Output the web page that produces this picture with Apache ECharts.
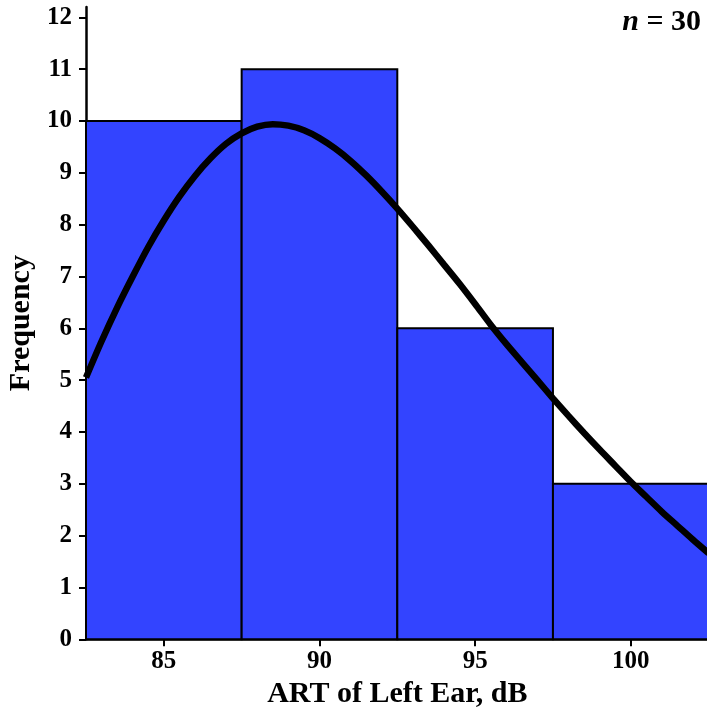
<!DOCTYPE html>
<html>
<head>
<meta charset="utf-8">
<script src="https://cdn.jsdelivr.net/npm/echarts@6/dist/echarts.min.js"></script>
<style>html,body{margin:0;padding:0;background:#fff}#c{width:707px;height:711px}</style>
</head>
<body>
<div id="c"></div>
<script>
// Histogram bins
var binStarts = [82.5, 87.5, 92.5, 97.5];
var binEnds = [87.5, 92.5, 97.5, 102.5];
var counts = [10, 11, 6, 3];
// Fitted curve
var curveX = [82.5, 83, 83.5, 84, 84.5, 85, 85.5, 86, 86.5, 87, 87.5, 88, 88.5, 89, 89.5, 90, 90.5, 91, 91.5, 92, 92.5, 93, 93.5, 94, 94.5, 95, 95.5, 96, 96.5, 97, 97.5, 98, 98.5, 99, 99.5, 100, 100.5, 101, 101.5, 102, 102.5];
var curveY = [5.05, 5.75, 6.4, 7.0, 7.57, 8.08, 8.54, 8.94, 9.28, 9.56, 9.76, 9.89, 9.94, 9.91, 9.82, 9.67, 9.47, 9.23, 8.95, 8.64, 8.31, 7.96, 7.6, 7.23, 6.86, 6.47, 6.07, 5.7, 5.35, 5.0, 4.65, 4.31, 3.98, 3.66, 3.35, 3.04, 2.75, 2.46, 2.19, 1.92, 1.66];
var xTicks = [85, 90, 95, 100];
var yTicks = [0, 1, 2, 3, 4, 5, 6, 7, 8, 9, 10, 11, 12];

var histData = binStarts.map(function (s, i) { return [s, binEnds[i], counts[i]]; });
var curveData = curveX.map(function (x, i) { return [x, curveY[i]]; });

var FONT = '"Liberation Serif", "Times New Roman", serif';
var chart = echarts.init(document.getElementById('c'), null, { renderer: 'canvas' });
chart.setOption({
  animation: false,
  backgroundColor: '#fff',
  grid: { left: 86, top: 7, width: 622.6, height: 632.3, containLabel: false, outerBoundsMode: 'none' },
  xAxis: {
    type: 'value', min: 82.5, max: 102.5,
    name: 'ART of Left Ear, dB', nameLocation: 'middle', nameGap: 36,
    nameTextStyle: { fontFamily: FONT, fontWeight: 'bold', fontSize: 30, color: '#000' },
    axisLine: { show: true, onZero: false, lineStyle: { color: '#000', width: 2.5 } },
    axisTick: { show: true, length: 7, lineStyle: { color: '#000', width: 2 }, customValues: xTicks },
    axisLabel: { fontFamily: FONT, fontWeight: 'bold', fontSize: 25, color: '#000', margin: 10, customValues: xTicks },
    splitLine: { show: false }
  },
  yAxis: {
    type: 'value', min: 0, max: 12.2,
    name: 'Frequency', nameLocation: 'middle', nameGap: 45, nameRotate: 90,
    nameTextStyle: { fontFamily: FONT, fontWeight: 'bold', fontSize: 30, color: '#000' },
    axisLine: { show: true, lineStyle: { color: '#000', width: 2.5 } },
    axisTick: { show: true, length: 7, lineStyle: { color: '#000', width: 2 }, customValues: yTicks },
    axisLabel: { fontFamily: FONT, fontWeight: 'bold', fontSize: 25, color: '#000', margin: 14, customValues: yTicks },
    splitLine: { show: false }
  },
  series: [
    {
      type: 'custom',
      data: histData,
      encode: { x: [0, 1], y: 2 },
      renderItem: function (params, api) {
        var p0 = api.coord([api.value(0), api.value(2)]);
        var p1 = api.coord([api.value(1), 0]);
        return {
          type: 'rect',
          shape: { x: p0[0], y: p0[1], width: p1[0] - p0[0], height: p1[1] - p0[1] },
          style: { fill: '#3344FF', stroke: '#000', lineWidth: 2 }
        };
      },
      z: 1
    },
    {
      type: 'line',
      data: curveData,
      smooth: 0.3,
      showSymbol: false,
      symbol: 'none',
      lineStyle: { color: '#000', width: 6.5 },
      z: 3
    }
  ],
  graphic: [{
    type: 'text',
    right: 6,
    top: 7,
    style: {
      text: '{i|n} = 30',
      fontFamily: FONT, fontWeight: 'bold', fontSize: 30, fill: '#000',
      rich: { i: { fontFamily: FONT, fontWeight: 'bold', fontStyle: 'italic', fontSize: 30, fill: '#000' } }
    },
    z: 10
  }]
});
</script>
</body>
</html>
